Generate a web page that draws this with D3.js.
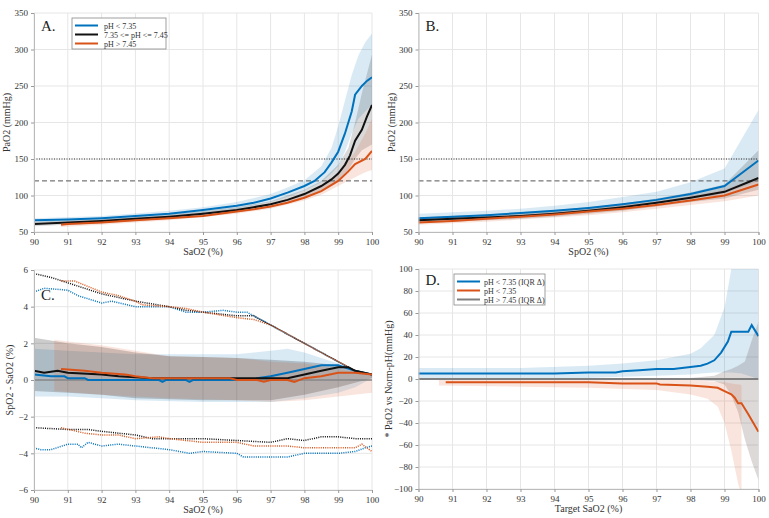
<!DOCTYPE html>
<html>
<head>
<meta charset="utf-8">
<script src="https://cdn.jsdelivr.net/npm/d3@7"></script>
<style>
  body { margin: 0; background: #fff; }
  svg text { font-family: "Liberation Serif", "DejaVu Serif", serif; }
  .tick text { font-size: 9px; fill: #333; }
  .tick line { stroke: #999; }
  .domain { stroke: #bbb; }
  .lab { font-size: 10px; fill: #333; }
</style>
</head>
<body>
<svg id="chart" width="769" height="518"></svg>
<script>
// ---- panel A: PaO2 vs SaO2 ----
var aBlue = [[90,66],[91,67],[92,69],[93,72],[94,75],[95,80],[96,86],[96.5,90],[97,96],[97.5,104],[98,113],[98.3,120],[98.6,132],[98.8,145],[99,160],[99.2,185],[99.4,215],[99.5,238],[99.7,250],[99.85,257],[100,262]]
var aBlack = [[90,61],[91,63],[92,65],[93,68],[94,71],[95,75],[96,80],[96.5,84],[97,88],[97.5,94],[98,102],[98.5,113],[98.8,122],[99,130],[99.2,142],[99.35,155],[99.5,175],[99.7,190],[99.85,208],[100,224]]
var aOrange = [[90.8,60],[91,61],[92,63],[93,66],[94,69],[95,72],[96,78],[96.5,81],[97,85],[97.5,90],[98,97],[98.5,106],[99,120],[99.3,133],[99.5,143],[99.8,150],[100,161]]
var aBlueBand = [[90,63,69],[92,66,72],[94,72,79],[95,76,84],[96,82,91],[97,91,102],[97.5,98,111],[98,107,121],[98.5,118,140],[98.8,130,165],[99,140,195],[99.2,160,230],[99.4,185,265],[99.6,205,292],[99.8,215,310],[100,225,322]]
var aBlackBand = [[90,58,64],[92,62,68],[94,68,74],[96,77,84],[97,84,92],[98,97,108],[98.5,106,120],[99,120,142],[99.3,135,165],[99.5,150,200],[99.7,162,240],[100,170,293]]
var aOrangeBand = [[90.8,57,63],[92,60,66],[94,66,72],[96,75,81],[97,82,89],[98,93,101],[98.5,101,111],[99,113,128],[99.5,125,160],[99.8,132,185],[100,135,205]]

// ---- panel B: PaO2 vs SpO2 ----
var bBlue = [[90,69],[91,71],[92,73],[93,76],[94,79],[95,83],[96,88],[97,94],[98,102],[99,113],[100,148]]
var bBlack = [[90,66],[91,68],[92,70],[93,72],[94,75],[95,79],[96,84],[97,90],[98,97],[99,105],[100,124]]
var bOrange = [[90,63],[91,65],[92,68],[93,71],[94,74],[95,78],[96,82],[97,87],[98,93],[99,100],[100,115]]
var bBlueBand = [[90,64,75],[91,66,77],[92,68,79],[93,71,82],[94,74,86],[95,78,91],[96,82,98],[97,88,105],[98,95,118],[99,103,137],[100,120,217]]
var bBlackBand = [[90,62,70],[91,64,72],[92,66,74],[93,68,77],[94,71,80],[95,75,84],[96,79,89],[97,85,96],[98,91,104],[99,96,115],[100,108,162]]
var bOrangeBand = [[90,60,66],[91,62,68],[92,64,71],[93,67,74],[94,70,78],[95,73,82],[96,77,87],[97,82,92],[98,87,99],[99,92,108],[100,100,125]]

// ---- panel C: SpO2 - SaO2 ----
var cBlue = [[90,0.3],[90.5,0.2],[90.9,0.2],[91,0.1],[91.5,0.1],[91.6,0],[93.7,0],[93.8,-0.1],[93.9,0],[94.5,0],[94.6,-0.1],[94.7,0],[96.5,0],[96.6,0.1],[97,0.2],[97.5,0.4],[98,0.6],[98.5,0.8],[99,0.8],[99.5,0.5],[100,0.3]]
var cBlack = [[90,0.5],[90.3,0.4],[90.7,0.5],[91,0.4],[92,0.3],[92.5,0.2],[93,0.15],[93.5,0.1],[97.5,0.1],[98,0.3],[98.5,0.5],[99,0.7],[99.3,0.7],[99.5,0.5],[100,0.3]]
var cOrange = [[90.8,0.6],[91.5,0.5],[92,0.4],[92.7,0.3],[93,0.2],[93.5,0.1],[95.8,0.1],[96,0],[96.6,0],[96.8,-0.1],[97,0],[97.5,0],[97.7,-0.1],[98,0.1],[98.5,0.2],[99,0.4],[99.5,0.4],[100,0.3]]
var cBlueBand = [[90,-0.9,1.7],[91,-0.9,1.6],[92,-1.0,1.5],[93,-1.1,1.4],[95,-1.2,1.4],[96,-1.2,1.4],[97,-1.2,1.6],[97.5,-1.1,1.7],[98,-1.0,1.5],[99,-0.7,0.9],[99.5,-0.4,0.5],[100,0.1,0.3]]
var cBlackBand = [[90,-0.6,2.3],[91,-0.7,2.0],[92,-0.8,1.8],[93,-1.0,1.5],[94,-1.05,1.3],[95,-1.1,1.25],[96,-1.1,1.2],[97,-1.1,1.1],[98,-0.8,1.0],[99,-0.4,0.8],[100,0.1,0.3]]
var cOrangeBand = [[90.6,-0.6,2.2],[91,-0.65,2.1],[92,-0.8,1.9],[93,-0.9,1.6],[94,-1.0,1.3],[95,-1.05,1.25],[96,-1.1,1.2],[97,-1.2,1.0],[98,-1.1,0.9],[99,-0.9,0.6],[100,-0.7,0.3]]
var cBlueHi = [[90,4.8],[90.3,5.0],[91,4.9],[91.3,4.6],[92,4.2],[92.3,4.3],[93,4.0],[94,4.0],[94.5,3.7],[95,3.7],[95.6,3.8],[96,3.7],[96.3,3.7],[97,3.0],[98,2.0],[99,1.0],[99.5,0.5],[100,0.3]]
var cBlackHi = [[90,5.8],[90.5,5.6],[91,5.3],[91.5,5.0],[92,4.7],[92.5,4.5],[93,4.3],[94,4.0],[94.5,3.8],[95,3.7],[96,3.5],[96.5,3.5],[97,3.0],[98,2.0],[99,1.0],[99.5,0.5],[100,0.3]]
var cOrangeHi = [[90.8,5.4],[91.2,5.4],[92,4.8],[92.5,4.6],[93,4.3],[93.2,4.1],[94,4.0],[94.5,3.9],[95,3.7],[96,3.4],[96.5,3.3],[97,3.0],[98,2.0],[99,1.0],[99.5,0.5],[100,0.3]]
var cBlueLo = [[90,-3.7],[90.2,-3.8],[90.5,-3.8],[91,-3.5],[91.3,-3.5],[91.4,-3.7],[91.6,-3.4],[92,-3.6],[92.5,-3.5],[93,-3.6],[94,-3.8],[94.6,-4.0],[95,-3.9],[96,-4.0],[96.2,-4.2],[97,-4.2],[97.5,-4.2],[98,-4.0],[99,-4.0],[99.5,-3.9],[99.8,-3.7],[100,-3.6]]
var cBlackLo = [[90,-2.6],[91,-2.7],[91.6,-2.7],[92,-2.8],[92.5,-2.9],[93,-3.0],[93.5,-3.2],[94,-3.2],[95,-3.2],[96,-3.3],[97,-3.4],[97.5,-3.2],[98,-3.3],[98.5,-3.1],[99,-3.1],[99.5,-3.2],[100,-3.2]]
var cOrangeLo = [[90.8,-2.6],[91.5,-2.9],[92,-3.0],[92.5,-3.0],[93,-3.2],[93.7,-3.1],[94,-3.2],[95,-3.4],[96,-3.4],[96.5,-3.6],[97,-3.6],[97.5,-3.6],[98,-3.7],[99,-3.7],[99.5,-3.7],[99.7,-3.5],[100,-3.9]]

// ---- panel D: PaO2 difference vs normal pH ----
var dBlue = [[90,5],[94,5],[95,6],[95.8,6],[96,7],[96.5,8],[97,9],[97.5,9],[98,11],[98.3,12],[98.5,14],[98.7,17],[98.9,24],[99.1,34],[99.2,43],[99.7,43],[99.8,49],[100,39]]
var dOrange = [[90.8,-3],[95,-3],[96,-4],[97,-4],[97.1,-5],[98,-6],[98.5,-7],[98.8,-8],[99,-11],[99.2,-14],[99.3,-17],[99.4,-22],[99.5,-22],[99.7,-32],[100,-48]]
var dGrey = [[90,0],[100,0]]
var dBlueBand = [[90,1,10],[93,1,10],[95,1,12],[96,2,14],[97,3,17],[98,4,23],[98.3,5,28],[98.7,6,40],[99,6,65],[99.2,6,100],[99.5,5,100],[100,0,100]]
var dGreyBand = [[97.5,0,0],[98,-1,1],[98.7,-2,3],[99,-5,7],[99.2,-15,9],[99.4,-30,12],[99.6,-55,16],[99.8,-75,35],[100,-92,52]]
var dOrangeBand = [[90.6,-6,0],[93,-7,0],[95,-8,0],[97,-10,0],[98,-14,-1],[98.5,-18,-2],[98.8,-25,-3],[99,-40,-3],[99.2,-65,-4],[99.4,-95,-5],[99.45,-100,-5],[99.5,-100,-6]]

var xTicks = [90, 91, 92, 93, 94, 95, 96, 97, 98, 99, 100]
var paoTicks = [50, 100, 150, 200, 250, 300, 350]
var diffTicks = [-6, -4, -2, 0, 2, 4, 6]
var deltaTicks = [-100, -80, -60, -40, -20, 0, 20, 40, 60, 80, 100]

var legendA = ["pH < 7.35", "7.35 <= pH <= 7.45", "pH > 7.45"]
var legendD = ["pH < 7.35 (IQR \u0394)", "pH < 7.35", "pH > 7.45 (IQR \u0394)"]

var colors = { blue: "#0072BD", black: "#111", orange: "#D95319", grey: "#808080" }

var svg = d3.select("#chart")

function panel(opt) {
  var g = svg.append("g").attr("transform", "translate(" + opt.left + "," + opt.top + ")")
  var x = d3.scaleLinear().domain([90, 100]).range([0, opt.width])
  var y = d3.scaleLinear().domain(opt.ydomain).range([opt.height, 0])

  g.append("g").selectAll("line").data(xTicks).join("line")
    .attr("x1", function(d) { return x(d) }).attr("x2", function(d) { return x(d) })
    .attr("y1", 0).attr("y2", opt.height)
    .attr("stroke", "#e6e6e6")
  g.append("g").selectAll("line").data(opt.yticks).join("line")
    .attr("y1", function(d) { return y(d) }).attr("y2", function(d) { return y(d) })
    .attr("x1", 0).attr("x2", opt.width)
    .attr("stroke", "#e6e6e6")

  var clip = "clip" + opt.name
  g.append("clipPath").attr("id", clip).append("rect")
    .attr("width", opt.width).attr("height", opt.height)
  var plot = g.append("g").attr("clip-path", "url(#" + clip + ")")

  var area = d3.area()
    .x(function(d) { return x(d[0]) })
    .y0(function(d) { return y(d[1]) })
    .y1(function(d) { return y(d[2]) })
  var line = d3.line()
    .x(function(d) { return x(d[0]) })
    .y(function(d) { return y(d[1]) })

  opt.bands.forEach(function(b) {
    plot.append("path").attr("d", area(b.data))
      .attr("fill", b.color).attr("fill-opacity", b.opacity || 0.15)
  })
  ;(opt.hlines || []).forEach(function(h) {
    plot.append("line")
      .attr("x1", 0).attr("x2", opt.width)
      .attr("y1", y(h.v)).attr("y2", y(h.v))
      .attr("stroke", h.color || "#444").attr("stroke-width", h.width || 1)
      .attr("stroke-dasharray", h.dash)
  })
  opt.lines.forEach(function(l) {
    plot.append("path").attr("d", line(l.data))
      .attr("fill", "none").attr("stroke", l.color)
      .attr("stroke-width", l.width || 2)
      .attr("stroke-dasharray", l.dash)
  })

  g.append("g").attr("transform", "translate(0," + opt.height + ")")
    .call(d3.axisBottom(x).tickValues(xTicks).tickSize(3).tickPadding(4))
  g.append("g")
    .call(d3.axisLeft(y).tickValues(opt.yticks).tickSize(3).tickPadding(3))

  g.append("text").attr("class", "lab").attr("text-anchor", "middle")
    .attr("x", opt.width / 2).attr("y", opt.height + 23).text(opt.xlabel)
  g.append("text").attr("class", "lab").attr("text-anchor", "middle")
    .attr("transform", "rotate(-90)")
    .attr("x", -opt.height / 2).attr("y", opt.ylabelX).text(opt.ylabel)
  g.append("text").attr("x", opt.tagX).attr("y", opt.tagY)
    .attr("font-size", "15px").attr("fill", "#222").text(opt.tag)

  if (opt.legend) {
    var lg = g.append("g").attr("transform", "translate(" + opt.legend.x + "," + opt.legend.y + ")")
    lg.append("rect").attr("width", opt.legend.w).attr("height", 31)
      .attr("fill", "#fff").attr("stroke", "#888").attr("stroke-width", 0.8)
    opt.legend.items.forEach(function(it, i) {
      var yy = 7.5 + i * 9
      lg.append("line").attr("x1", 3).attr("x2", 26).attr("y1", yy).attr("y2", yy)
        .attr("stroke", it.color).attr("stroke-width", 2)
      lg.append("text").attr("x", opt.legend.tx).attr("y", yy + 3)
        .attr("font-size", "8px").attr("fill", "#333").text(it.label)
    })
  }
}

panel({
  name: "A", left: 34, top: 13, width: 338, height: 219,
  ydomain: [50, 350], yticks: paoTicks,
  xlabel: "SaO2 (%)", ylabel: "PaO2 (mmHg)", ylabelX: -24,
  tag: "A.", tagX: 7, tagY: 18,
  bands: [
    { data: aBlueBand, color: colors.blue },
    { data: aBlackBand, color: "#000" },
    { data: aOrangeBand, color: colors.orange }
  ],
  hlines: [{ v: 150, dash: "1,1.5", color: "#333" }, { v: 120, dash: "5,3", color: "#555" }],
  lines: [
    { data: aBlue, color: colors.blue },
    { data: aBlack, color: colors.black },
    { data: aOrange, color: colors.orange }
  ],
  legend: {
    x: 38, y: 5, w: 94, tx: 32,
    items: [
      { label: legendA[0], color: colors.blue },
      { label: legendA[1], color: colors.black },
      { label: legendA[2], color: colors.orange }
    ]
  }
})

panel({
  name: "B", left: 418.5, top: 13, width: 340, height: 219,
  ydomain: [50, 350], yticks: paoTicks,
  xlabel: "SpO2 (%)", ylabel: "PaO2 (mmHg)", ylabelX: -24,
  tag: "B.", tagX: 7, tagY: 18,
  bands: [
    { data: bBlueBand, color: colors.blue },
    { data: bBlackBand, color: "#000" },
    { data: bOrangeBand, color: colors.orange }
  ],
  hlines: [{ v: 150, dash: "1,1.5", color: "#333" }, { v: 120, dash: "5,3", color: "#555" }],
  lines: [
    { data: bBlue, color: colors.blue },
    { data: bBlack, color: colors.black },
    { data: bOrange, color: colors.orange }
  ]
})

panel({
  name: "C", left: 34, top: 270, width: 338, height: 220,
  ydomain: [-6, 6], yticks: diffTicks,
  xlabel: "SaO2 (%)", ylabel: "SpO2 - SaO2 (%)", ylabelX: -21,
  tag: "C.", tagX: 7, tagY: 30,
  bands: [
    { data: cBlueBand, color: colors.blue },
    { data: cBlackBand, color: "#000", opacity: 0.2 },
    { data: cOrangeBand, color: colors.orange }
  ],
  hlines: [{ v: 0, color: "#888", width: 1.5 }],
  lines: [
    { data: cBlueHi, color: colors.blue, width: 1.5, dash: "1,1.2" },
    { data: cBlackHi, color: colors.black, width: 1.5, dash: "1,1.2" },
    { data: cOrangeHi, color: colors.orange, width: 1.5, dash: "1,1.2" },
    { data: cBlueLo, color: colors.blue, width: 1.5, dash: "1,1.2" },
    { data: cBlackLo, color: colors.black, width: 1.5, dash: "1,1.2" },
    { data: cOrangeLo, color: colors.orange, width: 1.5, dash: "1,1.2" },
    { data: cBlue, color: colors.blue },
    { data: cBlack, color: colors.black },
    { data: cOrange, color: colors.orange }
  ]
})

panel({
  name: "D", left: 418.5, top: 269, width: 340, height: 220,
  ydomain: [-100, 100], yticks: deltaTicks,
  xlabel: "Target SaO2 (%)", ylabel: "* PaO2 vs Norm-pH(mmHg)", ylabelX: -27,
  tag: "D.", tagX: 7, tagY: 16,
  bands: [
    { data: dBlueBand, color: colors.blue },
    { data: dGreyBand, color: "#5a4040", opacity: 0.2 },
    { data: dOrangeBand, color: colors.orange }
  ],
  lines: [
    { data: dGrey, color: colors.grey },
    { data: dBlue, color: colors.blue },
    { data: dOrange, color: colors.orange }
  ],
  legend: {
    x: 35.5, y: 5, w: 91, tx: 30,
    items: [
      { label: legendD[0], color: colors.blue },
      { label: legendD[1], color: colors.orange },
      { label: legendD[2], color: colors.grey }
    ]
  }
})
</script>
</body>
</html>
